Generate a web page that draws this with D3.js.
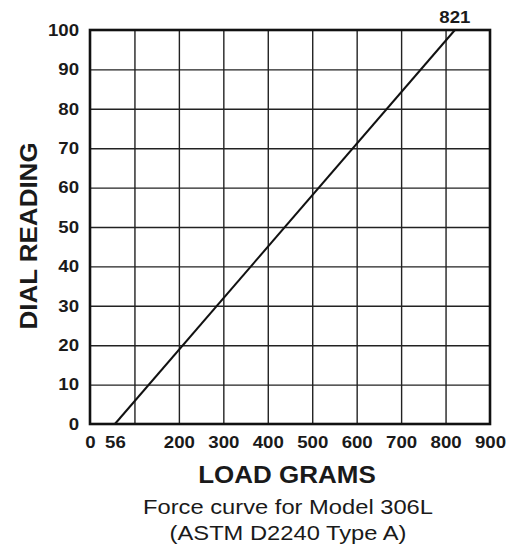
<head>
<script src="https://d3js.org/d3.v7.min.js"></script>
<style>
body { margin: 0; background: #fff; }
text { font-family: "Liberation Sans", Arial, sans-serif; fill: #1a1a1a; }
.grid line { stroke: #222; stroke-width: 1.4; }
.grid .domain { stroke: none; }
</style>
</head>
<body>
<svg id="chart" width="515" height="550"></svg>
<script>
// data
const loadGrams = [56, 821];
const dialReading = [0, 100];
const xTicks = [0, 56, 200, 300, 400, 500, 600, 700, 800, 900];
const xGrid = [100, 200, 300, 400, 500, 600, 700, 800];
const yTicks = [0, 10, 20, 30, 40, 50, 60, 70, 80, 90, 100];

const svg = d3.select('svg#chart');
const margins = {top: 30, left: 90, right: 25, bottom: 126};
const chartWidth = 515 - margins.left - margins.right;
const chartHeight = 550 - margins.top - margins.bottom;
const stretch = 1.13; // the lettering in the original is a bit wide

const x = d3.scaleLinear().domain([0, 900]).range([0, chartWidth]);
const y = d3.scaleLinear().domain([0, 100]).range([chartHeight, 0]);

const chartArea = svg.append('g')
  .attr('transform', `translate(${margins.left},${margins.top})`);

// grid
chartArea.append('g').attr('class', 'grid')
  .call(d3.axisBottom(x).tickValues(xGrid).tickSize(chartHeight).tickFormat(''));
chartArea.append('g').attr('class', 'grid')
  .call(d3.axisLeft(y).tickValues(yTicks.slice(1, -1)).tickSize(-chartWidth).tickFormat(''));

// frame
chartArea.append('rect')
  .attr('width', chartWidth).attr('height', chartHeight)
  .attr('fill', 'none').attr('stroke', '#111').attr('stroke-width', 2.6);

// tick labels
const bottomAxis = d3.axisBottom(x).tickValues(xTicks).tickSize(0).tickPadding(0);
const gx = chartArea.append('g').attr('transform', `translate(0,${chartHeight})`).call(bottomAxis);
gx.select('.domain').remove();
gx.selectAll('text')
  .attr('dy', null).attr('y', 24)
  .attr('transform', `scale(${stretch},1)`)
  .style('font-size', '16.5px').style('font-weight', 'bold').attr('fill', '#1a1a1a');

const leftAxis = d3.axisLeft(y).tickValues(yTicks).tickSize(0).tickPadding(0);
const gy = chartArea.append('g').call(leftAxis);
gy.select('.domain').remove();
gy.selectAll('text')
  .attr('x', -11 / stretch)
  .attr('transform', `scale(${stretch},1)`)
  .style('font-size', '16.5px').style('font-weight', 'bold').attr('fill', '#1a1a1a');

// force curve
const line = d3.line().x(d => x(d[0])).y(d => y(d[1]));
chartArea.append('path')
  .datum(d3.zip(loadGrams, dialReading))
  .attr('d', line)
  .attr('fill', 'none').attr('stroke', '#111').attr('stroke-width', 2);

chartArea.append('text')
  .attr('transform', `translate(${x(loadGrams[1])},${y(dialReading[1]) - 7}) scale(${stretch},1)`)
  .attr('text-anchor', 'middle')
  .style('font-size', '16.5px').style('font-weight', 'bold')
  .text(loadGrams[1]);

// titles
function label(tx, ty, str, size, bold, rot) {
  svg.append('text')
    .attr('transform', `translate(${tx},${ty})${rot ? ' rotate(-90)' : ''} scale(${stretch},1)`)
    .attr('text-anchor', 'middle')
    .style('font-size', size + 'px').style('font-weight', bold ? 'bold' : 'normal')
    .text(str);
}
label(287, 483, 'LOAD GRAMS', 23, true);
label(37, 236, 'DIAL READING', 23, true, true);
label(288, 514, 'Force curve for Model 306L', 21, false);
label(288, 540, '(ASTM D2240 Type A)', 21, false);
</script>
</body>
